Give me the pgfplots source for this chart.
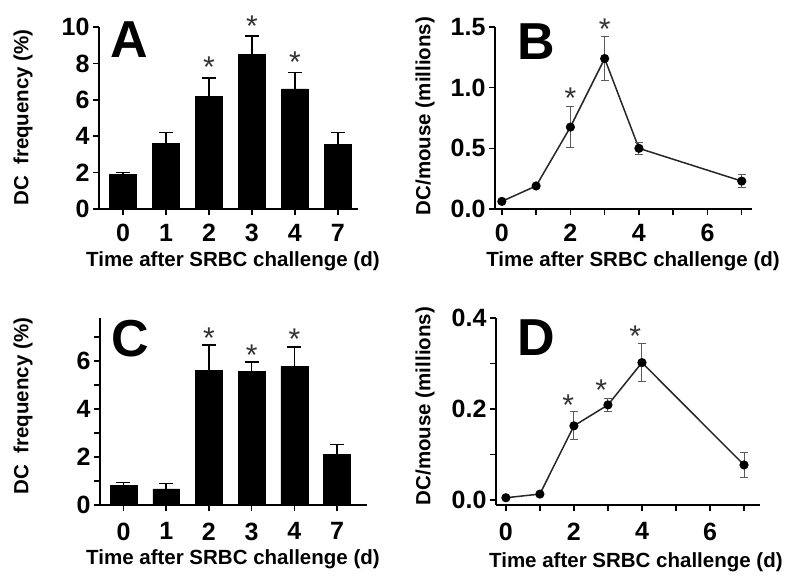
\documentclass[border=0pt]{standalone}
\usepackage{fontspec}
\setmainfont{Liberation Sans}
\usepackage{pgfplots}
\pgfplotsset{compat=1.18}
\definecolor{ast}{HTML}{333333}
\pgfplotsset{pan/.style={
  scale only axis, anchor=south west,
  axis lines=left, axis line style={-, line width=1.8pt},
  tick align=outside, major tick length=6pt,
  tick style={line width=1.5pt, black},
  /pgf/number format/assume math mode=true,
  tick label style={font=\fontsize{25}{25}\selectfont\bfseries},
  xticklabel style={yshift=-6pt},
  label style={font=\fontsize{20.5}{20.5}\selectfont\bfseries},
  xlabel={Time after SRBC challenge (d)},
  clip=false,
},
barplot/.style={ybar, bar width=0.63, fill=black, draw=black,
  error bars/.cd, y dir=plus, y explicit,
  error bar style={line width=1.5pt, black},
  error mark options={rotate=90, mark size=7pt, line width=1.5pt, black}},
lineplot/.style={line width=1.5pt, color=black!85, mark=*, mark size=3.8pt,
  mark options={fill=black, draw=black, solid},
  error bars/.cd, y dir=both, y explicit,
  error bar style={line width=1pt, black!65},
  error mark options={rotate=90, mark size=4pt, line width=1pt, black!65}},
}
\tikzset{astn/.style={anchor=base, text=ast, font=\fontsize{30}{30}\selectfont, inner sep=0pt},
  letter/.style={font=\fontsize{52}{52}\selectfont\bfseries, inner sep=0pt}}
\begin{document}
\begin{tikzpicture}
\path[use as bounding box] (0pt,0pt) rectangle (800pt,-587pt);
% Panel A
\begin{axis}[pan, at={(99pt,-209pt)}, width=259pt, height=182pt,
  xmin=-0.56, xmax=5.47, ymin=0, ymax=10,
  xtick={0,...,5}, xticklabels={0,1,2,3,4,7},
  ytick={0,2,...,10},
  ylabel={DC\ \ frequency (\%)},
  xlabel style={at={(axis description cs:0.517,-0.285)}, anchor=center},
  ylabel style={at={(axis description cs:-0.293,0.503)}, anchor=center}]
\addplot[barplot] coordinates {
 (0,1.9) +- (0,0.1)
 (1,3.6) +- (0,0.6)
 (2,6.2) +- (0,1.0)
 (3,8.5) +- (0,1.0)
 (4,6.6) +- (0,0.9)
 (5,3.55) +- (0,0.65)
};
\node[astn] at (axis cs:2,7.2) {*};
\node[astn] at (axis cs:3,9.5) {*};
\node[astn] at (axis cs:4,7.5) {*};
\end{axis}
% Panel B
\begin{axis}[pan, at={(495pt,-209pt)}, width=257pt, height=182pt,
  xmin=-0.2, xmax=7.3, ymin=0, ymax=1.5,
  xtick={0,...,7}, xticklabels={0,,2,,4,,6,},
  ytick={0,0.5,1,1.5}, yticklabels={0.0,0.5,1.0,1.5},
  ylabel={DC/mouse (millions)},
  xlabel style={at={(axis description cs:0.537,-0.285)}, anchor=center},
  ylabel style={at={(axis description cs:-0.272,0.511)}, anchor=center}]
\addplot[lineplot] coordinates {
 (0,0.063) +- (0,0.01)
 (1,0.19) +- (0,0.01)
 (2,0.675) +- (0,0.17)
 (3,1.24) +- (0,0.18)
 (4,0.50) +- (0,0.05)
 (7,0.23) +- (0,0.055)
};
\node[astn,yshift=-3pt] at (axis cs:2,0.85) {*};
\node[astn,yshift=-3pt] at (axis cs:3,1.42) {*};
\end{axis}
% Panel C
\begin{axis}[pan, at={(100pt,-505pt)}, width=267pt, height=187pt,
  xmin=-0.55, xmax=5.7, ymin=0, ymax=7.8,
  xtick={0,...,5}, xticklabels={0,1,2,3,4,7},
  xticklabel style={yshift=-2pt},
  ytick={0,...,7}, yticklabels={0,,2,,4,,6,},
  ylabel={DC\ \ frequency (\%)},
  xlabel style={at={(axis description cs:0.498,-0.29)}, anchor=center},
  ylabel style={at={(axis description cs:-0.288,0.529)}, anchor=center}]
\addplot[barplot] coordinates {
 (0,0.81) +- (0,0.12)
 (1,0.67) +- (0,0.23)
 (2,5.63) +- (0,1.04)
 (3,5.58) +- (0,0.38)
 (4,5.77) +- (0,0.83)
 (5,2.1) +- (0,0.42)
};
\node[astn,yshift=-3pt] at (axis cs:2,6.67) {*};
\node[astn,yshift=-3pt] at (axis cs:3,5.96) {*};
\node[astn,yshift=-3pt] at (axis cs:4,6.6) {*};
\end{axis}
% Panel D
\begin{axis}[pan, at={(496pt,-505pt)}, width=264pt, height=187pt,
  xmin=-0.29, xmax=7.47, ymin=-0.011, ymax=0.4,
  xtick={0,...,7}, xticklabels={0,,2,,4,,6,},
  xticklabel style={yshift=-2pt},
  ytick={0,0.1,0.2,0.3,0.4}, yticklabels={0.0,,0.2,,0.4},
  ylabel={DC/mouse (millions)},
  xlabel style={at={(axis description cs:0.530,-0.305)}, anchor=center},
  ylabel style={at={(axis description cs:-0.269,0.529)}, anchor=center}]
\addplot[lineplot] coordinates {
 (0,0.005) +- (0,0.002)
 (1,0.013) +- (0,0.002)
 (2,0.163) +- (0,0.031)
 (3,0.209) +- (0,0.014)
 (4,0.302) +- (0,0.042)
 (7,0.077) +- (0,0.027)
};
\node[astn,yshift=-3pt] at (axis cs:1.83,0.193) {*};
\node[astn,yshift=-3pt] at (axis cs:2.8,0.225) {*};
\node[astn,yshift=-3pt] at (axis cs:3.8,0.344) {*};
\end{axis}
\node[letter] at (129pt,-40pt) {A};
\node[letter] at (536pt,-42pt) {B};
\node[letter] at (130pt,-339pt) {C};
\node[letter] at (536pt,-338pt) {D};
\end{tikzpicture}
\end{document}
